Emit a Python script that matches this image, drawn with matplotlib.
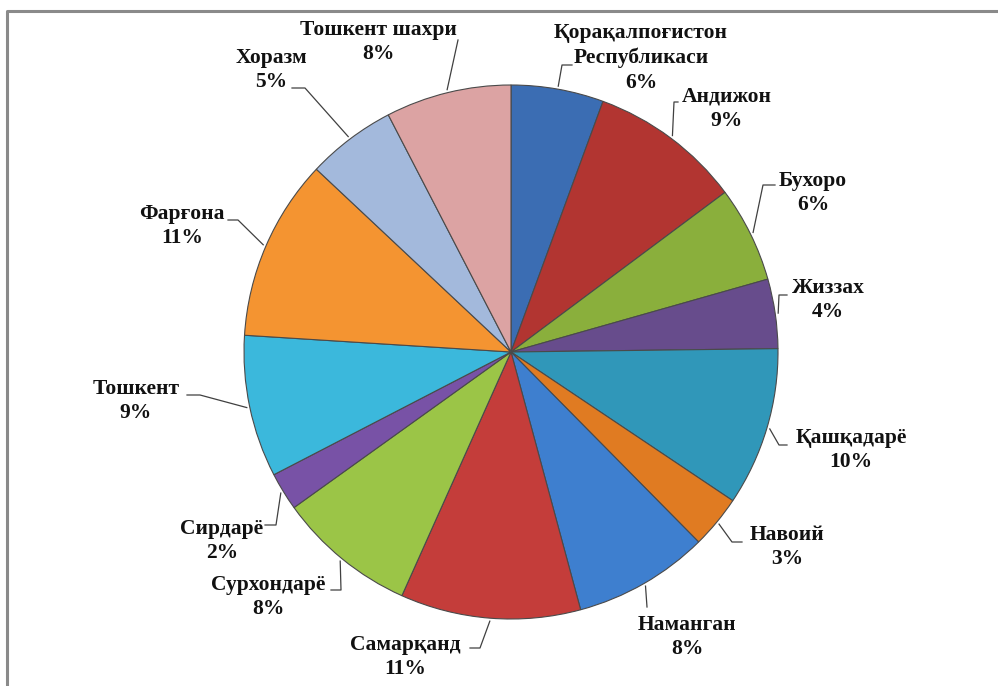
import numpy as np
import matplotlib
matplotlib.use("Agg")
import matplotlib.pyplot as plt

W, H = 998, 686

regions = [
    "Қорақалпоғистон\nРеспубликаси", "Андижон", "Бухоро", "Жиззах",
    "Қашқадарё", "Навоий", "Наманган", "Самарқанд", "Сурхондарё",
    "Сирдарё", "Тошкент", "Фарғона", "Хоразм", "Тошкент шахри",
]
# shares (percent)
shares = [5.6, 9.2, 5.8, 4.2, 9.6, 3.2, 8.2, 10.9, 8.4, 2.3, 8.6, 11.0, 5.4, 7.6]
colors = [
    "#3b6db3", "#b23531", "#8aaf3c", "#674c8c", "#3097b9", "#e07b22", "#3e7fcf",
    "#c43d3a", "#9bc547", "#7852a6", "#3bb8dc", "#f49431", "#a3b9dc", "#dca3a3",
]

# label placement in pixels (top-left origin): text centre, elbow, end of leader
text_pos = [(641, 58), (727, 109), (813, 193), (828, 300), (851, 450), (787, 547),
            (687, 637), (405, 657), (268, 597), (222, 541), (136, 401), (182, 226),
            (271, 70), (378, 42)]
elbows = [(562, 65), (674, 102), (763, 185), (779, 295), (779, 445), (732, 542),
          (647, 607), (480, 648), (341, 590), (276, 525), (200, 395), (238, 220),
          (305, 88), (458, 40)]
ends = [(572, 65), (678, 102), (775, 185), (787, 295), (787, 445), (742, 542),
        (647, 607), (470, 648), (331, 590), (265, 525), (187, 395), (228, 220),
        (292, 88), (458, 40)]

cx, cy, R = 511, 352, 267


def px(p):
    return p[0], H - p[1]


fig = plt.figure(figsize=(W / 100, H / 100), dpi=100)
ax = fig.add_axes([0, 0, 1, 1])

wedges, _ = ax.pie(shares, colors=colors, startangle=90, counterclock=False,
                   center=(cx, H - cy), radius=R,
                   wedgeprops=dict(edgecolor="#4a4a4a", linewidth=0.8))

# pie() resets the limits, so set pixel limits afterwards
ax.set_xlim(0, W)
ax.set_ylim(0, H)
ax.set_aspect("equal")
ax.axis("off")

# outer frame (only top and left edges visible)
ax.plot([7, 7, W], [0, H - 11, H - 11], color="#8a8a8a", lw=2.2, solid_capstyle="butt")

for w, name, share, tp, el, en in zip(wedges, regions, shares, text_pos, elbows, ends):
    mid = np.deg2rad((w.theta1 + w.theta2) / 2)
    ax_x = cx + (R + 3) * np.cos(mid)
    ax_y = (H - cy) + (R + 3) * np.sin(mid)
    ex, ey = px(el)
    hx, hy = px(en)
    ax.plot([ax_x, ex, hx], [ax_y, ey, hy], color="#404040", lw=0.9)
    tx, ty = px(tp)
    ax.text(tx, ty, f"{name}\n{share:.0f}%", ha="center", va="center",
            multialignment="center", fontsize=15.5, fontweight="bold",
            family="Liberation Serif", linespacing=1.3, color="#111111")

fig.savefig("out.png", dpi=100)
